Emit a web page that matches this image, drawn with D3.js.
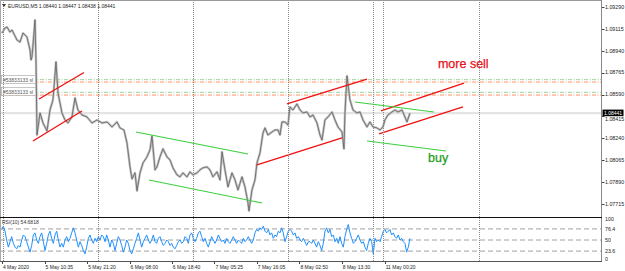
<!DOCTYPE html>
<html>
<head>
<meta charset="utf-8">
<script src="https://cdn.jsdelivr.net/npm/d3@7"></script>
<style>
body{margin:0;background:#fff;}
svg text{font-family:"Liberation Sans",Arial,sans-serif;}
</style>
</head>
<body>
<div id="chart"></div>
<script>
// EURUSD M5 - time in trading hours since 5 May 00:00 (weekend removed)
const priceHours = [-0.15,0.60,1.11,1.87,2.37,3.13,3.63,4.39,4.89,5.14,5.65,6.15,6.91,7.16,7.41,7.66,8.17,8.42,8.67,9.43,
  10.18,11.19,11.95,12.70,13.46,13.97,14.47,14.97,15.73,16.48,17.49,18.25,19.00,20.01,21.27,22.54,23.80,25.06,26.32,27.58,
  28.84,29.60,30.60,31.36,32.12,32.62,33.38,33.88,34.64,35.40,36.40,37.16,37.66,38.42,38.92,39.68,40.43,41.44,42.20,42.95,
  43.96,44.72,45.47,46.48,47.24,47.99,49.00,49.76,50.52,51.52,52.28,53.04,54.05,54.80,55.31,56.06,56.82,57.83,58.58,59.34,
  60.35,61.10,61.86,62.11,62.87,63.63,64.13,64.89,65.64,66.15,66.90,67.91,68.67,69.42,69.93,70.43,71.19,71.95,72.45,73.21,
  74.21,74.97,75.73,76.74,77.49,78.25,79.26,80.01,80.52,81.27,82.03,83.04,83.79,84.55,85.56,86.06,86.31,86.82,87.57,88.33,
  89.34,90.10,90.85,91.86,92.61,93.37,94.38,95.14,95.89,96.40,97.15,98.16,98.92,99.67,100.68,101.44,101.94,102.69];
const priceClose = [1.09082,1.09122,1.09130,1.09090,1.09106,1.09058,1.09026,1.09010,1.09058,1.09082,1.09066,1.09050,1.08946,1.08867,1.08891,1.08986,1.09186,1.08867,1.08267,1.08443,
  1.08363,1.08299,1.08467,1.08547,1.08851,1.08603,1.08523,1.08443,1.08387,1.08363,1.08411,1.08563,1.08467,1.08427,1.08411,1.08363,1.08387,1.08363,1.08371,1.08331,
  1.08371,1.08323,1.08307,1.08203,1.08012,1.07916,1.07964,1.07820,1.07964,1.08044,1.08092,1.08148,1.08259,1.07988,1.08012,1.08092,1.08156,1.08092,1.08068,1.08004,
  1.07948,1.07932,1.07964,1.07932,1.07972,1.07948,1.07964,1.07988,1.08004,1.08012,1.07988,1.07932,1.07972,1.07908,1.08132,1.07988,1.07852,1.07964,1.07908,1.07828,
  1.07932,1.07852,1.07724,1.07660,1.07828,1.07908,1.08044,1.08124,1.08283,1.08323,1.08267,1.08291,1.08307,1.08307,1.08267,1.08371,1.08371,1.08347,1.08491,1.08467,
  1.08515,1.08467,1.08443,1.08451,1.08411,1.08427,1.08363,1.08267,1.08227,1.08387,1.08411,1.08451,1.08387,1.08331,1.08291,1.08156,1.08443,1.08739,1.08547,1.08467,
  1.08443,1.08451,1.08387,1.08331,1.08371,1.08331,1.08323,1.08307,1.08331,1.08387,1.08427,1.08451,1.08467,1.08451,1.08467,1.08411,1.08371,1.08441];

// RSI(10), bars evenly spaced from rsiStart
const rsiStart = -0.23, rsiStep = 0.4201;
const rsiValues = [75,83,71,50,33,46,58,42,33,29, 37,33,50,62,58,46,33,21,37,62, 67,50,42,58,67,46,25,42,62,71,
  54,42,62,71,50,33,42,33,50,58, 46,54,67,79,67,50,33,46,37,25, 17,33,54,62,50,42,54,46,58,50,
  62,58,46,62,50,33,50,42,25,42, 58,50,37,21,33,50,42,25,17,29, 42,54,67,50,33,46,54,62,50,42,
  50,62,46,42,54,58,46,37,42,50, 46,37,42,33,29,37,46,50,42,46, 58,54,42,62,67,54,46,54,67,71,
  58,46,54,42,33,46,58,50,42,50, 62,54,46,50,42,54,46,42,50,58, 50,42,50,46,42,54,46,50,58,50,
  42,50,67,75,71,79,75,83,71,67, 75,62,67,54,62,58,71,67,79,67, 46,58,71,75,71,62,67,54,58,50,
  46,54,46,37,46, 46,42,50,42,33,46,37,25,42,71, 79,67,75,58,62,46,54,42,58,42,
  33,58,75,87,67,54,42,46,54,62, 50,42,46,33,25,42,54,46,17,54, 46,50,46,58,71,75,67,71,75,62,
  67,58,54,62,50,54,46,42,21,33,54];

const dateLabels = ["4 May 2020","5 May 10:35","5 May 21:20","6 May 08:00","6 May 18:40","7 May 05:25","7 May 16:05","8 May 02:50","8 May 13:30","11 May 00:20"];
const dateHours = [-0.17,10.58,21.33,32,42.67,53.42,64.08,74.83,85.5,96.33];
const separatorHours = [0,24,48,72,93.5,96,120];

const priceTicks = [1.09290,1.09115,1.08940,1.08765,1.08590,1.08415,1.08240,1.08065,1.07890,1.07715];
const lastPrice = 1.08441;
const rsiLevels = [76.4,50,23.6];
const rsiTicks = ["100","76.4","50","23.6","0"];

const levelPrices = [1.08709,1.08690,1.08608,1.08586];
const levelColors = ["#9fd39f","#ff9466","#9fd39f","#ff9466"];

// trend lines [h1, p1, h2, p2]
const redLines = [[9.18,1.08554,20.52,1.08766],[7.66,1.08219,20.01,1.08459],
  [71.69,1.08515,91.86,1.08714],[64.13,1.08027,85.56,1.08243],
  [95.39,1.08459,116.32,1.08682],[94.89,1.08275,116.06,1.08491]];
const greenLines = [[33.63,1.08291,61.86,1.08115],[36.90,1.07907,65.39,1.07723],
  [88.83,1.08531,108.75,1.08451],[91.86,1.08219,111.77,1.08139]];

const W = 625, H = 271;
const plotR = 601, mainB = 217, rsiB = 261.5;

const svg = d3.select("#chart").append("svg")
    .attr("width", W).attr("height", H);

const x = d3.scaleLinear().domain([0, 120]).range([2.6, 478.6]);
const y = d3.scaleLinear().domain([1.07715, 1.09290]).range([204, 7]);
const yr = d3.scaleLinear().domain([0, 100]).range([261, 219]);

svg.append("clipPath").attr("id","cMain").append("rect")
    .attr("x",0).attr("y",0).attr("width",plotR).attr("height",mainB);
svg.append("clipPath").attr("id","cRsi").append("rect")
    .attr("x",0).attr("y",mainB).attr("width",plotR).attr("height",rsiB-mainB);

const main = svg.append("g").attr("clip-path","url(#cMain)");
const rsiG = svg.append("g").attr("clip-path","url(#cRsi)");

// current price line
main.append("line")
    .attr("x1",0).attr("x2",plotR)
    .attr("y1",y(lastPrice)).attr("y2",y(lastPrice))
    .attr("stroke","#e4e4e4").attr("stroke-width",2.2);

// period separators
svg.selectAll(".sep")
    .data(separatorHours)
    .enter().append("line")
    .attr("x1",d=>Math.round(x(d))+0.5).attr("x2",d=>Math.round(x(d))+0.5)
    .attr("y1",0).attr("y2",rsiB)
    .attr("stroke","#888").attr("stroke-width",1)
    .attr("stroke-dasharray","1,1");

// horizontal levels
main.selectAll(".lvl")
    .data(levelPrices)
    .enter().append("line")
    .attr("x1",0).attr("x2",plotR)
    .attr("y1",d=>y(d)).attr("y2",d=>y(d))
    .attr("stroke",(d,i)=>levelColors[i]).attr("stroke-width",1)
    .attr("stroke-dasharray","4,1.5,1,1.5");

// level labels
[levelPrices[0], levelPrices[2]].forEach(p=>{
    const yy = Math.round(y(p));
    main.append("rect").attr("x",1.5).attr("y",yy-4.5).attr("width",35).attr("height",8)
        .attr("fill","#fff").attr("stroke","#a0a0a0").attr("stroke-width",0.6);
    main.append("text").attr("x",3).attr("y",yy+1.8)
        .style("font-size","5px").style("fill","#555").text("#53833133 sl");
});

// price series
const line = d3.line().x((d,i)=>x(priceHours[i])).y(d=>y(d));
main.append("path").datum(priceClose)
    .attr("d",line).attr("fill","none")
    .attr("stroke","#c2c2c2").attr("stroke-width",2.4).attr("stroke-linejoin","round");
main.append("path").datum(priceClose)
    .attr("d",line).attr("fill","none")
    .attr("stroke","#555").attr("stroke-width",0.7);

// trend lines
main.selectAll(".red")
    .data(redLines)
    .enter().append("line")
    .attr("x1",d=>x(d[0])).attr("y1",d=>y(d[1]))
    .attr("x2",d=>x(d[2])).attr("y2",d=>y(d[3]))
    .attr("stroke","#f01010").attr("stroke-width",1.3);
main.selectAll(".green")
    .data(greenLines)
    .enter().append("line")
    .attr("x1",d=>x(d[0])).attr("y1",d=>y(d[1]))
    .attr("x2",d=>x(d[2])).attr("y2",d=>y(d[3]))
    .attr("stroke","#3ccf3c").attr("stroke-width",1.1);

// annotations
main.append("text").attr("x",x(109.75)).attr("y",y(1.08800))
    .style("font-size","12.5px").style("fill","#e8101a")
    .style("stroke","#e8101a").style("stroke-width",0.25).text("more sell");
main.append("text").attr("x",x(107.24)).attr("y",y(1.08053))
    .style("font-size","12.5px").style("fill","#1a9e1a")
    .style("stroke","#1a9e1a").style("stroke-width",0.25).text("buy");

// title
svg.append("path").attr("d","M2,4 L6,4 L4,7 Z").attr("fill","#333");
svg.append("text").attr("x",8).attr("y",7.5)
    .style("font-size","5px").style("fill","#222")
    .text("EURUSD,M5  1.08440 1.08447 1.08438 1.08441");

// RSI panel
rsiG.selectAll(".rl")
    .data(rsiLevels)
    .enter().append("line")
    .attr("x1",0).attr("x2",plotR)
    .attr("y1",d=>yr(d)).attr("y2",d=>yr(d))
    .attr("stroke","#a0a0a0").attr("stroke-width",1)
    .attr("stroke-dasharray","5,3");

rsiG.append("path").datum(rsiValues)
    .attr("d", d3.line().x((d,i)=>x(rsiStart + i*rsiStep)).y(d=>yr(d)))
    .attr("fill","none").attr("stroke","#1e8fff").attr("stroke-width",1);

svg.append("text").attr("x",2).attr("y",224)
    .style("font-size","5px").style("fill","#333").text("RSI(10) 54.6818");

// frames
svg.append("line").attr("x1",0).attr("x2",plotR).attr("y1",0.5).attr("y2",0.5)
    .attr("stroke","#999");
svg.append("line").attr("x1",0.5).attr("x2",0.5).attr("y1",0).attr("y2",rsiB)
    .attr("stroke","#aaa");
svg.append("line").attr("x1",plotR+0.5).attr("x2",plotR+0.5).attr("y1",0).attr("y2",rsiB)
    .attr("stroke","#888");
svg.append("line").attr("x1",0).attr("x2",plotR+1).attr("y1",mainB+0.5).attr("y2",mainB+0.5)
    .attr("stroke","#111");
svg.append("line").attr("x1",0).attr("x2",plotR+1).attr("y1",rsiB).attr("y2",rsiB)
    .attr("stroke","#555");

// right price axis
const pAxis = svg.append("g");
pAxis.selectAll(".pt")
    .data(priceTicks)
    .enter().append("line")
    .attr("x1",plotR+1).attr("x2",plotR+3.5)
    .attr("y1",d=>Math.round(y(d))+0.5).attr("y2",d=>Math.round(y(d))+0.5)
    .attr("stroke","#444");
pAxis.selectAll(".pl")
    .data(priceTicks)
    .enter().append("text")
    .attr("x",plotR+4)
    .attr("y",d=>d===1.08415 ? y(d)+4.2 : y(d)+1.8)
    .style("font-size","5.3px").style("fill","#222")
    .text(d=>d.toFixed(5));

pAxis.append("rect").attr("x",plotR+1.5).attr("y",y(lastPrice)-3.6)
    .attr("width",21).attr("height",6.6).attr("fill","#000");
pAxis.append("text").attr("x",plotR+3).attr("y",y(lastPrice)+1.7)
    .style("font-size","5px").style("fill","#fff").text(lastPrice.toFixed(5));

// RSI axis
svg.selectAll(".rt")
    .data(rsiTicks)
    .enter().append("text")
    .attr("x",plotR+4).attr("y",d=>Math.min(yr(+d)+1.8, 260.5))
    .style("font-size","5.3px").style("fill","#222")
    .text(d=>d);

// time axis
svg.selectAll(".dt")
    .data(dateHours)
    .enter().append("line")
    .attr("x1",d=>Math.round(x(d))+0.5).attr("x2",d=>Math.round(x(d))+0.5)
    .attr("y1",rsiB).attr("y2",rsiB+2.5)
    .attr("stroke","#444");
svg.selectAll(".dl")
    .data(dateLabels)
    .enter().append("text")
    .attr("x",(d,i)=>x(dateHours[i])+1)
    .attr("y",268.5)
    .style("font-size","5px").style("fill","#222")
    .text(d=>d);
</script>
</body>
</html>
